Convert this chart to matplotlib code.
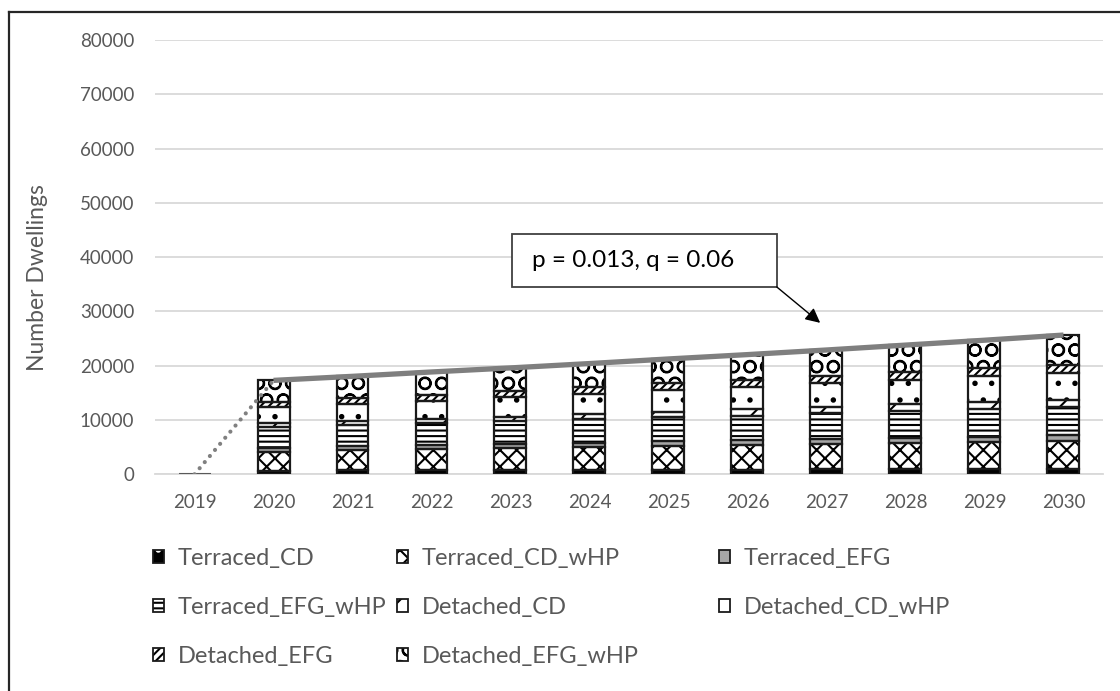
import numpy as np
import matplotlib
matplotlib.use("Agg")
import matplotlib.pyplot as plt
from matplotlib.lines import Line2D
from matplotlib.patches import Rectangle

plt.rcParams['font.family'] = ['Lato', 'DejaVu Sans']
plt.rcParams['hatch.linewidth'] = 1.5

years = ['2019', '2020', '2021', '2022', '2023', '2024', '2025', '2026', '2027', '2028', '2029', '2030']

# stacked segments, bottom to top
terraced_cd       = [0, 700, 750, 800, 820, 850, 870, 880, 890, 900, 900, 900]
terraced_cd_whp   = [0, 3500, 3650, 3800, 3950, 4100, 4300, 4450, 4650, 4850, 5050, 5250]
terraced_efg      = [0, 700, 750, 800, 830, 850, 880, 900, 920, 950, 980, 1000]
terraced_efg_whp  = [0, 3900, 3950, 4000, 4150, 4300, 4450, 4600, 4750, 4900, 5050, 5200]
detached_cd       = [0, 600, 650, 750, 850, 950, 1050, 1150, 1250, 1300, 1350, 1400]
detached_cd_whp   = [0, 3000, 3200, 3400, 3550, 3750, 3950, 4100, 4300, 4550, 4750, 4950]
detached_efg      = [0, 1000, 1050, 1150, 1200, 1250, 1300, 1350, 1400, 1450, 1500, 1500]
detached_efg_whp  = [0, 3900, 4050, 4150, 4250, 4350, 4450, 4620, 4740, 4900, 5120, 5450]

# total adopters curve (p = 0.013, q = 0.06)
adopters = [0, 17300, 18050, 18850, 19600, 20400, 21250, 22050, 22900, 23800, 24700, 25650]

labels = ['Terraced_CD', 'Terraced_CD_wHP', 'Terraced_EFG', 'Terraced_EFG_wHP',
          'Detached_CD', 'Detached_CD_wHP', 'Detached_EFG', 'Detached_EFG_wHP']
series = [terraced_cd, terraced_cd_whp, terraced_efg, terraced_efg_whp,
          detached_cd, detached_cd_whp, detached_efg, detached_efg_whp]
# (facecolor, hatch colour, hatch)
styles = [('black', 'white', '.'),
          ('white', 'black', 'XX'),
          ('#a6a6a6', 'black', None),
          ('white', 'black', '---'),
          ('white', 'black', '/'),
          ('white', 'black', '.'),
          ('white', 'black', '////'),
          ('white', 'black', 'O')]

text_col = '#595959'
grid_col = '#d9d9d9'
edge_col = '#1a1a1a'

fig = plt.figure(figsize=(11.2, 6.91), dpi=100)
ax = fig.add_axes([0.1384, 0.3136, 0.8464, 0.6285])

x = np.arange(len(years))
width = 0.405
bottom = np.zeros(len(years))
handles = []
for lab, vals, (fc, hc, hatch) in zip(labels, series, styles):
    vals = np.array(vals, dtype=float)
    ax.bar(x[1:], vals[1:], width, bottom=bottom[1:], color=fc,
           edgecolor=hc, hatch=hatch, linewidth=0, zorder=3)
    # outline of each segment
    ax.bar(x[1:], vals[1:], width, bottom=bottom[1:], fill=False,
           edgecolor=edge_col, linewidth=1.6, zorder=4)
    bottom += vals
    # legend proxy: hatched fill + black outline drawn on top of each other
    fill = Rectangle((0, 0), 1, 1, fc=fc, ec=hc, hatch=hatch, lw=0)
    outline = Rectangle((0, 0), 1, 1, fill=False, ec=edge_col, lw=1.3)
    handles.append((fill, outline))

# 2019 bar (zero height)
ax.bar(x[0], bottom[0], width, fill=False, edgecolor='#595959', linewidth=1.5, zorder=4)

# adopters line
ax.plot(x[:2], adopters[:2], color='#808080', lw=3.0, linestyle=(0, (0.01, 1.9)),
        dash_capstyle='round', zorder=5)
ax.plot(x[1:], adopters[1:], color='#7f7f7f', lw=3.8, solid_capstyle='butt', zorder=5)

ax.set_xlim(-0.5, len(years) - 0.5)
ax.set_ylim(0, 80000)
ax.set_yticks(np.arange(0, 80001, 10000))
ax.set_xticks(x)
ax.set_xticklabels(years)
ax.yaxis.grid(True, color=grid_col, lw=1.3, zorder=0)
ax.set_axisbelow(True)
for s in ['top', 'right', 'left']:
    ax.spines[s].set_visible(False)
ax.spines['bottom'].set_color(grid_col)
ax.spines['bottom'].set_linewidth(1.3)
ax.tick_params(axis='both', length=0, labelsize=13.5, labelcolor=text_col)
ax.tick_params(axis='y', pad=15)
ax.tick_params(axis='x', pad=14)

ax.set_ylabel('Number Dwellings', fontsize=16.5, color=text_col)
ax.yaxis.set_label_coords(-0.113, 0.454)

# annotation box
ax.add_patch(Rectangle((4.02, 34520), 3.35, 9780, fc='white', ec='#404040', lw=1.3,
                       zorder=6, clip_on=False))
ax.text(4.27, 39400, 'p = 0.013, q = 0.06', fontsize=17.5, color='black',
        va='center', ha='left', zorder=7)
ax.annotate('', xy=(7.92, 27900), xytext=(7.37, 34520),
            arrowprops=dict(arrowstyle='-|>', color='black', lw=1.0,
                            mutation_scale=22, shrinkA=0, shrinkB=0), zorder=7)

# legend laid out in three columns like the original
cols = [[0, 3, 6], [1, 4, 7], [2, 5]]
col_x = [153 / 1120, 397 / 1120, 719 / 1120]
for idx, cx in zip(cols, col_x):
    leg = fig.legend([handles[i] for i in idx], [labels[i] for i in idx],
                     loc='upper left', bbox_to_anchor=(cx, 0.207),
                     frameon=False, fontsize=17, handlelength=0.45, handleheight=0.45,
                     handletextpad=0.6, labelspacing=1.19, borderpad=0, borderaxespad=0)
    for t in leg.get_texts():
        t.set_color(text_col)

# frame lines (left and top)
fig.add_artist(Line2D([8.5 / 1120, 8.5 / 1120], [0, 1 - 12 / 691], color='#262626', lw=1.6))
fig.add_artist(Line2D([8.5 / 1120, 1], [1 - 12 / 691, 1 - 12 / 691], color='#262626', lw=1.6))

fig.savefig('out.png', dpi=100)
